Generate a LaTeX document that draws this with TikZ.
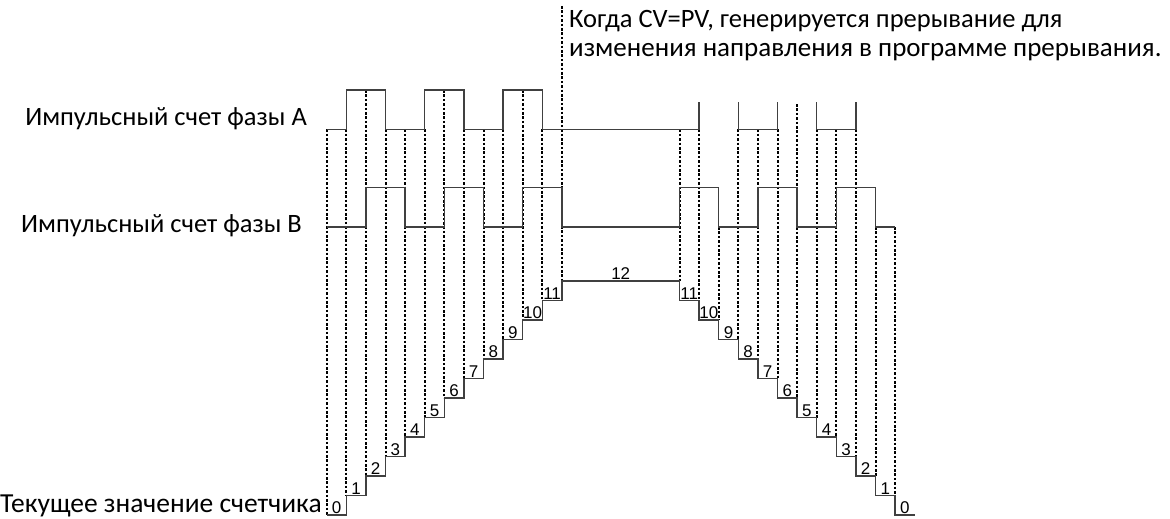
\documentclass[tikz,border=0pt]{standalone}
\usepackage{fontspec}
\setmainfont{Carlito}
\newfontfamily\digfont{Liberation Sans}
\begin{document}
\begin{tikzpicture}[x=1pt,y=-1pt,
  wave/.style={line width=1.4pt, draw=black!75, line join=miter},
  dotl/.style={line width=2pt, dash pattern=on 2.6pt off 1.8pt, draw=black},
  lbl/.style={font=\fontsize{26.5}{32}\selectfont, inner sep=0pt},
  num/.style={font=\digfont\fontsize{17}{18}\selectfont, inner sep=1pt, anchor=south}]
\useasboundingbox (0,0) rectangle (1170,519);
% grid columns
\foreach \k in {0,...,30} { \coordinate (x\k) at ({326.7+19.6*\k},0); }
% levels
\coordinate (Top) at (0,6);
\coordinate (Ah) at (0,90);
\coordinate (Ar) at (0,102);
\coordinate (Ad) at (0,104);
\coordinate (Al) at (0,129.3);
\coordinate (Bh) at (0,187.7);
\coordinate (Bl) at (0,227);
\foreach \n in {0,...,12} { \coordinate (L\n) at (0,{515-19.5*\n}); }
% dotted guide lines
\foreach \k/\t in {0/Al,1/Al,2/Ah,3/Al,4/Al,5/Al,6/Ah,7/Al,8/Al,9/Al,10/Ah,11/Al,12/Top}
  \draw[dotl] (x\k|-\t) -- (x\k|-L\k);
\foreach \k/\t/\l in {18/Al/12,19/Al/11,20/Bl/10,21/Al/9,22/Al/8,23/Al/7,24/Ad/6,25/Al/5,26/Al/4,27/Al/3,28/Bl/2,29/Bl/1}
  \draw[dotl] (x\k|-\t) -- (x\k|-L\l);
% phase A
\draw[wave] (x0|-Al) -- (x1|-Al) -- (x1|-Ah) -- (x3|-Ah) -- (x3|-Al) -- (x5|-Al) -- (x5|-Ah) -- (x7|-Ah) -- (x7|-Al)
  -- (x9|-Al) -- (x9|-Ah) -- (x11|-Ah) -- (x11|-Al) -- (x19|-Al) -- (x19|-Ar);
\draw[wave] (x21|-Ar) -- (x21|-Al) -- (x23|-Al) -- (x23|-Ar);
\draw[wave] (x25|-Ar) -- (x25|-Al) -- (x27|-Al) -- (x27|-Ar);
% phase B
\draw[wave] (x0|-Bl) -- (x2|-Bl) -- (x2|-Bh) -- (x4|-Bh) -- (x4|-Bl) -- (x6|-Bl) -- (x6|-Bh) -- (x8|-Bh) -- (x8|-Bl)
  -- (x10|-Bl) -- (x10|-Bh) -- (x12|-Bh) -- (x12|-Bl) -- (x18|-Bl) -- (x18|-Bh) -- (x20|-Bh) -- (x20|-Bl)
  -- (x22|-Bl) -- (x22|-Bh) -- (x24|-Bh) -- (x24|-Bl) -- (x26|-Bl) -- (x26|-Bh) -- (x28|-Bh) -- (x28|-Bl) -- (x29|-Bl);
% counter staircase
\draw[wave] (x0|-L0)
  foreach [evaluate=\k as \p using int(\k-1)] \k in {1,...,12} { -- (x\k|-L\p) -- (x\k|-L\k) }
  -- (x18|-L12)
  foreach [evaluate=\k as \p using int(30-\k), evaluate=\k as \q using int(29-\k)] \k in {18,...,29} { -- (x\k|-L\p) -- (x\k|-L\q) }
  -- (x30|-L0);
% counter values
\foreach \k in {0,...,11}
  \node[num] (cu\k) at ({326.7+19.6*(\k+0.5)},{515-19.5*\k}) {\k};
\node[num] (c12) at ({326.7+19.6*15},{515-19.5*12}) {12};
\foreach \j in {0,...,11}
  \node[num] (cd\j) at ({326.7+19.6*(29.5-\j)},{515-19.5*\j}) {\j};
% texts
\node[lbl, anchor=base east] (pa) at (307,125) {Импульсный счет фазы A};
\node[lbl, anchor=base east] (pb) at (302,232) {Импульсный счет фазы B};
\node[lbl, anchor=base west, font=\fontsize{27.5}{32}\selectfont] (cv) at (0,512) {Текущее значение счетчика};
\node[lbl, anchor=base west] (note1) at (569,28) {Когда CV=PV, генерируется прерывание для};
\node[lbl, anchor=base west, font=\fontsize{27}{32}\selectfont] (note2) at (569,57) {изменения направления в программе прерывания.};
\end{tikzpicture}
\end{document}
